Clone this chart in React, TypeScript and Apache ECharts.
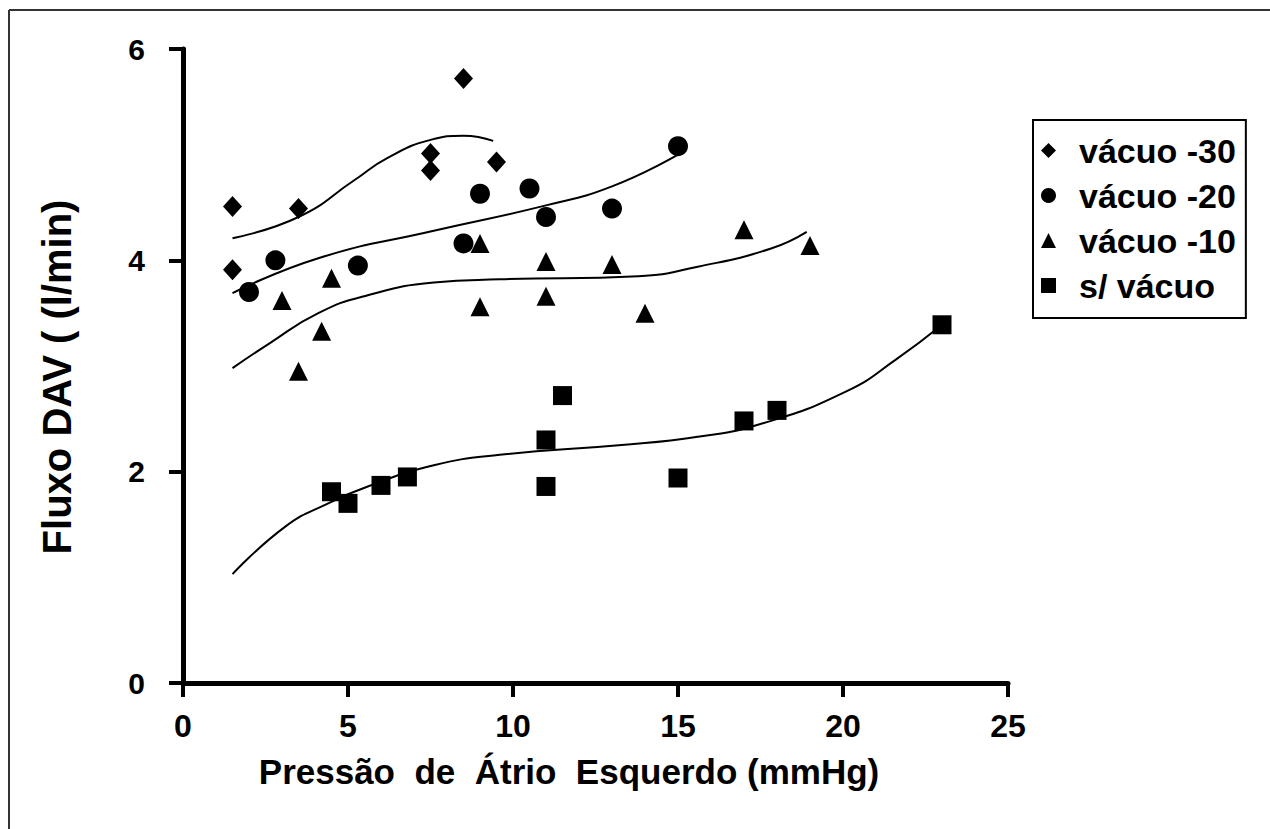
import React, { useEffect, useRef } from "react";
import * as echarts from "echarts";

const xTicks = [0, 5, 10, 15, 20, 25];
const yTicks = [0, 2, 4, 6];

const seriesNames = ["vácuo -30", "vácuo -20", "vácuo -10", "s/ vácuo"];
const seriesSymbols = ["diamond", "circle", "triangle", "rect"];

const vac30X = [1.5, 1.5, 3.5, 7.5, 7.5, 8.5, 9.5];
const vac30Y = [4.51, 3.91, 4.49, 5.01, 4.85, 5.72, 4.93];

const vac20X = [2, 2.8, 5.3, 8.5, 9, 10.5, 11, 13, 15];
const vac20Y = [3.7, 4.0, 3.95, 4.16, 4.63, 4.68, 4.41, 4.49, 5.08];

const vac10X = [3, 3.5, 4.2, 4.5, 9, 9, 11, 11, 13, 14, 17, 19];
const vac10Y = [3.62, 2.95, 3.33, 3.83, 4.16, 3.56, 3.99, 3.66, 3.96, 3.5, 4.29, 4.14];

const semX = [4.5, 5, 6, 6.8, 11, 11, 11.5, 15, 17, 18, 23];
const semY = [1.81, 1.7, 1.87, 1.95, 2.3, 1.86, 2.72, 1.94, 2.48, 2.58, 3.39];

// trend curves
const fit30X = [1.5, 3.5, 5.2, 6.2, 7.5, 8.5, 9.4];
const fit30Y = [4.21, 4.41, 4.76, 4.97, 5.14, 5.18, 5.13];

const fit20X = [1.5, 4.1, 7.6, 11, 13, 15];
const fit20Y = [3.69, 4.02, 4.28, 4.52, 4.7, 5.0];

const fit10X = [1.5, 2.6, 4.1, 5.6, 7.6, 9.6, 13.8, 15.6, 17.8, 18.9];
const fit10Y = [2.98, 3.21, 3.5, 3.67, 3.79, 3.82, 3.85, 3.94, 4.11, 4.27];

const fitSemX = [1.5, 3.1, 4.4, 5.6, 7.6, 9.6, 13.2, 15.6, 17.6, 20.1, 21.6, 23];
const fitSemY = [1.03, 1.48, 1.7, 1.86, 2.06, 2.16, 2.25, 2.33, 2.46, 2.76, 3.06, 3.39];

const xTitle = "Pressão  de  Átrio  Esquerdo (mmHg)";
const yTitle = "Fluxo DAV ( (l/min)";

const zip = (xs: number[], ys: number[]) => xs.map((x, i) => [x, ys[i]]);

const FONT = "'Liberation Sans', Arial, sans-serif";

export default function App() {
  const ref = useRef<HTMLDivElement>(null);
  useEffect(() => {
    if (!ref.current) return;
    const chart = echarts.init(ref.current, null, { renderer: "svg" });
    const pts = [zip(vac30X, vac30Y), zip(vac20X, vac20Y), zip(vac10X, vac10Y), zip(semX, semY)];
    const fits = [zip(fit30X, fit30Y), zip(fit20X, fit20Y), zip(fit10X, fit10Y), zip(fitSemX, fitSemY)];
    const sizes = [[19, 21], 20, [19, 19], 19];
    const scatter = seriesNames.map((name, i) => ({
      type: "scatter",
      name,
      data: pts[i],
      symbol: seriesSymbols[i],
      symbolSize: sizes[i],
      itemStyle: { color: "#000", opacity: 1 },
      z: 3,
    }));
    const lines = fits.map((d, i) => ({
      type: "line",
      name: "ajuste " + seriesNames[i],
      data: d,
      smooth: 0.5,
      symbol: "none",
      lineStyle: { color: "#000", width: 2 },
      z: 2,
    }));
    chart.setOption({
      animation: false,
      backgroundColor: "#fff",
      grid: { left: 183, right: 262, top: 49, bottom: 146 },
      xAxis: {
        type: "value",
        min: xTicks[0],
        max: xTicks[xTicks.length - 1],
        interval: 5,
        splitLine: { show: false },
        axisLine: { lineStyle: { color: "#000", width: 5 } },
        axisTick: { length: 14, lineStyle: { color: "#000", width: 4 } },
        axisLabel: {
          margin: 27,
          color: "#000",
          fontFamily: FONT,
          fontWeight: "bold",
          fontSize: 32,
        },
      },
      yAxis: {
        type: "value",
        min: yTicks[0],
        max: yTicks[yTicks.length - 1],
        interval: 2,
        splitLine: { show: false },
        axisLine: { lineStyle: { color: "#000", width: 5 } },
        axisTick: { length: 14, lineStyle: { color: "#000", width: 4 } },
        axisLabel: {
          margin: 38,
          color: "#000",
          fontFamily: FONT,
          fontWeight: "bold",
          fontSize: 30,
        },
      },
      legend: {
        data: seriesNames.map((n, i) => ({ name: n, icon: seriesSymbols[i], itemStyle: { color: "#000", opacity: 1 } })),
        orient: "vertical",
        left: 1033,
        top: 120,
        width: 224,
        height: 198,
        padding: [13, 10, 15, 8],
        itemWidth: 15,
        itemHeight: 15,
        itemGap: 10,
        borderColor: "#000",
        borderWidth: 2,
        inactiveColor: "#000",
        textStyle: {
          color: "#000",
          fontFamily: FONT,
          fontWeight: "bold",
          fontSize: 34,
          lineHeight: 35,
          padding: [0, 0, 0, 18],
        },
      },
      graphic: [
        { type: "line", shape: { x1: 9, y1: 10, x2: 1270, y2: 10 }, style: { stroke: "#333", lineWidth: 2 } },
        { type: "line", shape: { x1: 9, y1: 10, x2: 9, y2: 829 }, style: { stroke: "#333", lineWidth: 2 } },
        {
          type: "text",
          x: 57,
          y: 377,
          rotation: Math.PI / 2,
          style: {
            text: yTitle,
            fontFamily: FONT,
            fontWeight: "bold",
            fontSize: 40,
            fill: "#000",
            align: "center",
            verticalAlign: "middle",
          },
        },
        {
          type: "text",
          x: 569,
          y: 771,
          style: {
            text: xTitle,
            fontFamily: FONT,
            fontWeight: "bold",
            fontSize: 35,
            fill: "#000",
            align: "center",
            verticalAlign: "middle",
          },
        },
      ],
      series: [...lines, ...scatter],
    });
    return () => chart.dispose();
  }, []);
  return (
    <div
      ref={ref}
      style={{ position: "fixed", left: 0, top: 0, width: 1270, height: 829, background: "#fff" }}
    />
  );
}
